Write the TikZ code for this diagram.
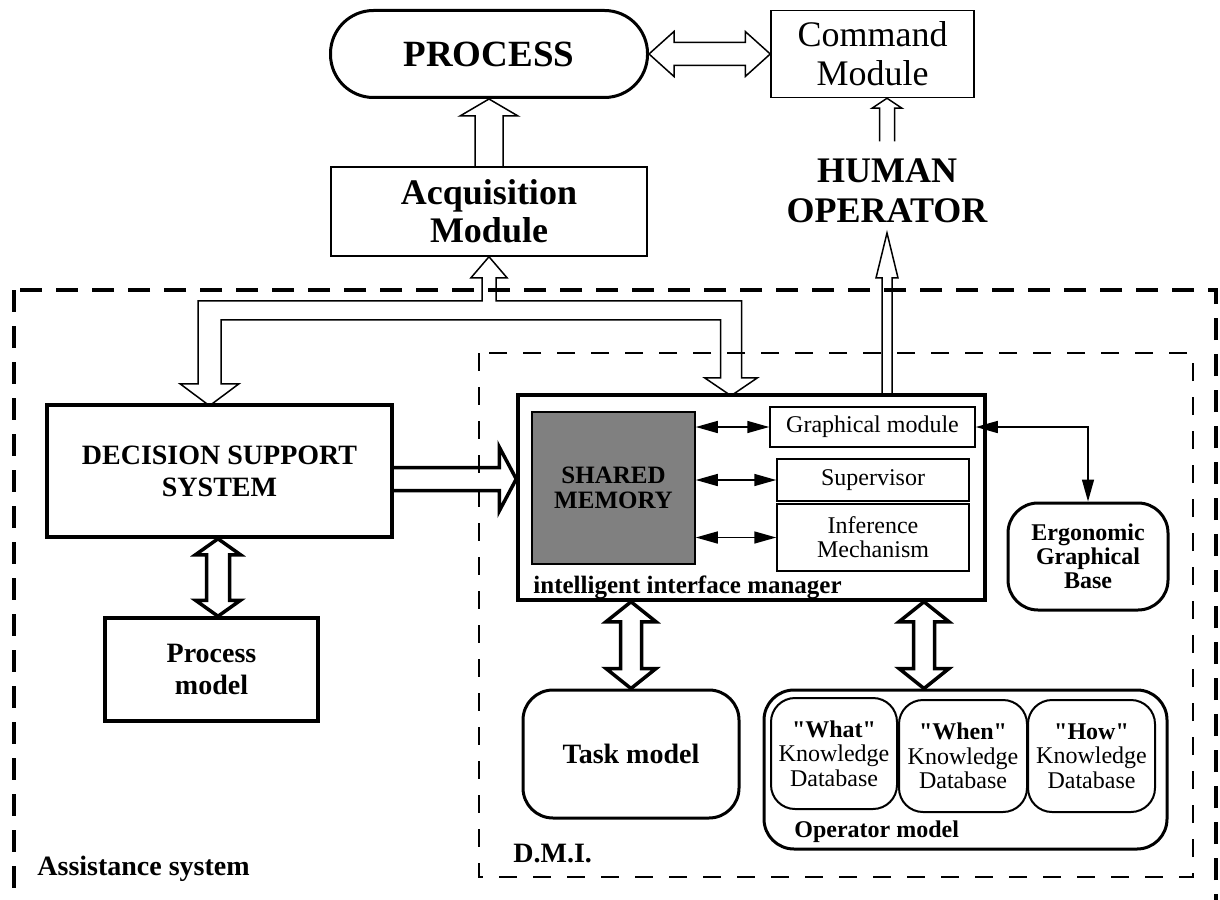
\documentclass[tikz,border=0pt]{standalone}
\usepackage{fontspec}
\setmainfont{Liberation Serif}
\usetikzlibrary{calc}
\usetikzlibrary{arrows.meta}

% straight double quote (the TeX mapping would curl a typed one)
\newcommand{\sq}{\XeTeXglyph\XeTeXglyphindex "quotedbl"\relax}

% hollow arrow from #2 to #3: shaft half width, head half width, head length
\newcommand{\hollowarrow}[6][]{%
	\coordinate (h2) at ($(#3)!#6!(#2)$);
	\draw[#1] ($(#2)!#4!90:(#3)$) -- ($(h2)!#4!-90:(#2)$) -- ($(h2)!#5!-90:(#2)$) -- (#3)
		-- ($(h2)!#5!90:(#2)$) -- ($(h2)!#4!90:(#2)$) -- ($(#2)!#4!-90:(#3)$);
}
% same, with a head at both ends
\newcommand{\hollowdarrow}[6][]{%
	\coordinate (h1) at ($(#2)!#6!(#3)$);
	\coordinate (h2) at ($(#3)!#6!(#2)$);
	\draw[#1] (#2) -- ($(h1)!#5!90:(#3)$) -- ($(h1)!#4!90:(#3)$) -- ($(h2)!#4!-90:(#2)$)
		-- ($(h2)!#5!-90:(#2)$) -- (#3) -- ($(h2)!#5!90:(#2)$) -- ($(h2)!#4!90:(#2)$)
		-- ($(h1)!#4!-90:(#3)$) -- ($(h1)!#5!-90:(#3)$) -- cycle;
}

\begin{document}
\begin{tikzpicture}[x=0.5pt,y=-0.5pt,
	box/.style={draw,line width=0.75pt,inner sep=0pt,align=center},
	bbox/.style={draw,line width=1.75pt,inner sep=0pt,align=center},
	rbox/.style={draw,line width=1.5pt,inner sep=0pt,align=center,rounded corners=15pt},
	kbox/.style={draw,line width=1pt,inner sep=0pt,align=center,rounded corners=12pt,
		minimum width=63.5pt,minimum height=56pt,font=\fontsize{12}{12.25}\selectfont},
	lbl/.style={inner sep=0pt,anchor=base west},
	fat/.style={line width=0.75pt,line join=miter},
	bfat/.style={line width=1.75pt,line join=miter},
	link/.style={line width=0.75pt,{Triangle[length=11pt,width=6pt]}-{Triangle[length=11pt,width=6pt]}}]
	
	\useasboundingbox (0,0) rectangle (1220,899);
	
	% frames
	\draw[line width=2pt,dash pattern=on 11pt off 7pt] (14,290) rectangle (1216,902);
	\draw[line width=0.75pt,dash pattern=on 9pt off 8pt] (479,353) rectangle (1193,877);
	
	% top row
	\node[bbox,line width=1.5pt,rounded corners=21.5pt,minimum width=158.5pt,minimum height=43.5pt,
		font=\fontsize{18.5}{20}\selectfont\bfseries] (proc) at (489,54) {PROCESS};
	\node[box,minimum width=101.5pt,minimum height=43.5pt,
		font=\fontsize{18}{19.5}\selectfont] (cmd) at (872.5,54) {Command\\Module};
	\node[box,minimum width=158pt,minimum height=44.5pt,
		font=\fontsize{18}{19}\selectfont\bfseries] (acq) at (489,211.5) {Acquisition\\Module};
	\node[inner sep=0pt,align=center,font=\fontsize{18}{20}\selectfont\bfseries] (human) at (887,190.5) {HUMAN\\OPERATOR};
	
	% assistance system
	\node[bbox,minimum width=172.5pt,minimum height=66pt,
		font=\fontsize{14}{16}\selectfont\bfseries] (dss) at (219.5,471) {DECISION SUPPORT\\SYSTEM};
	\node[bbox,minimum width=106.5pt,minimum height=51.5pt,
		font=\fontsize{14}{16}\selectfont\bfseries] (pmod) at (211.5,669.5) {Process\\model};
	\node[lbl,font=\fontsize{14}{15}\selectfont\bfseries] (aslbl) at (37,875) {Assistance system};
	
	% D.M.I.
	\node[bbox,minimum width=233.5pt,minimum height=102.5pt] (iim) at (751.5,497.5) {};
	\node[box,fill=gray,minimum width=81.5pt,minimum height=76pt,
		font=\fontsize{12.5}{12.5}\selectfont\bfseries] (mem) at (613.5,488) {SHARED\\MEMORY};
	\node[box,minimum width=102.5pt,minimum height=20pt,font=\fontsize{12}{12.5}\selectfont] (graph) at (872.5,427) {Graphical module};
	\node[box,minimum width=96pt,minimum height=21pt,font=\fontsize{12}{12.5}\selectfont] (sup) at (873,480) {Supervisor};
	\node[box,minimum width=96pt,minimum height=33.5pt,font=\fontsize{12}{12}\selectfont] (inf) at (873,537.5) {Inference\\Mechanism};
	\node[lbl,font=\fontsize{12.5}{12.5}\selectfont\bfseries] (iimlbl) at (533,593) {intelligent interface manager};
	
	\node[rbox,minimum width=80pt,minimum height=53.5pt,
		font=\fontsize{12}{12}\selectfont\bfseries] (ergo) at (1088,556.5) {Ergonomic\\Graphical\\Base};
	\node[rbox,minimum width=108pt,minimum height=64pt,
		font=\fontsize{14}{15}\selectfont\bfseries] (task) at (631,754) {Task model};
	\node[rbox,minimum width=201.5pt,minimum height=79.5pt] (opm) at (965.5,769.5) {};
	\node[kbox,minimum width=63pt,minimum height=55.5pt] (what) at (834,753.5) {\textbf{\sq What\sq}\\Knowledge\\Database};
	\node[kbox,minimum width=64pt] (when) at (963,756) {\textbf{\sq When\sq}\\Knowledge\\Database};
	\node[kbox] (how) at (1091.5,756) {\textbf{\sq How\sq}\\Knowledge\\Database};
	\node[lbl,font=\fontsize{12}{12}\selectfont\bfseries] (opmlbl) at (794,837) {Operator model};
	\node[lbl,font=\fontsize{14}{15}\selectfont\bfseries] (dmilbl) at (513,862) {D.M.I.};
	
	% hollow arrows
	\hollowdarrow[fat]{proc.east}{cmd.west}{5.75pt}{11.25pt}{12.5pt}
	\hollowarrow[fat]{acq.north}{proc.south}{7pt}{14.5pt}{8.5pt}
	\coordinate (hcmd) at ($(cmd.south)+(14.5,0)$);
	\coordinate (hbase) at ($(hcmd)+(0,43)$);
	\hollowarrow[fat]{hbase}{hcmd}{3.75pt}{7.5pt}{5pt}
	\coordinate (htip) at ($(human.south)+(0,10)$);
	\coordinate (hout) at (htip |- iim.north);
	\hollowarrow[fat]{hout}{htip}{2.5pt}{5.5pt}{22.5pt}
	
	% acquisition bus to the support system and the manager
	\draw[fat] (acq.south) -- ++(18,21) -- ++(-11,0) -- ++(0,23) -- ++(245.5,0) -- ++(0,77)
		-- ++(16,0) -- ++(-26.5,18) -- ++(-26.5,-18) -- ++(16,0) -- ++(0,-58) -- ++(-499.5,0)
		-- ++(0,64) -- ++(18,0) -- ++(-29.5,22) -- ++(-29.5,-22) -- ++(18,0) -- ++(0,-83)
		-- ++(284,0) -- ++(0,-23) -- ++(-11,0) -- cycle;
	
	\coordinate (dout) at ($(dss.east)+(0,8)$);
	\coordinate (din) at (iim.west |- dout);
	\hollowarrow[bfat]{dout}{din}{5.75pt}{16pt}{8.5pt}
	\coordinate (dp1) at ($(dss.south)+(-1.5,0)$);
	\coordinate (dp2) at (dp1 |- pmod.north);
	\hollowdarrow[bfat]{dp1}{dp2}{5.75pt}{11.25pt}{8pt}
	\coordinate (it1) at (task.north |- iim.south);
	\hollowdarrow[bfat]{it1}{task.north}{5.25pt}{12.5pt}{10pt}
	\coordinate (io2) at ($(opm.north)+(-41.5,0)$);
	\coordinate (io1) at (io2 |- iim.south);
	\hollowdarrow[bfat]{io1}{io2}{5.25pt}{12.5pt}{10pt}
	
	% links
	\draw[link] (mem.east |- graph.west) -- (graph.west);
	\draw[link] (mem.east |- sup.west) -- (sup.west);
	\draw[link] (mem.east |- inf.west) -- (inf.west);
	\draw[link] (graph.east) -| (ergo.north);
\end{tikzpicture}
\end{document}
